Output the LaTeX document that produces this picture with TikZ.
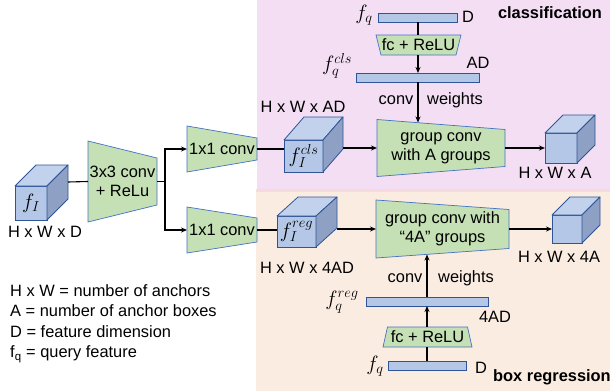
\documentclass[tikz,border=0pt]{standalone}
\usepackage{fontspec}
\setmainfont{Liberation Sans}
\usetikzlibrary{arrows.meta,calc,backgrounds}
\definecolor{clsbg}{HTML}{F3DEF3}
\definecolor{regbg}{HTML}{FBECE2}
\definecolor{seambg}{HTML}{F6DADF}
\definecolor{convgreen}{HTML}{C5E0B4}
\definecolor{edgeblue}{HTML}{4472C4}
\definecolor{cubefront}{HTML}{B4C7E7}
\definecolor{cubetop}{HTML}{C3D2EC}
\definecolor{cubeside}{HTML}{8EA1C4}
\definecolor{cubeedge}{HTML}{2F5597}
\pgfdeclarelayer{back}
\pgfsetlayers{back,background,main}
% trapezoid behind a node: right side narrower by #2 top and bottom
\newcommand{\trapR}[2]{\begin{pgfonlayer}{background}
  \draw[trap] (#1.north west) -- ($(#1.north east)+(0,#2)$)
    -- ($(#1.south east)+(0,-#2)$) -- (#1.south west) -- cycle;
  \end{pgfonlayer}}
% bottom side narrower by #2 (left and right)
\newcommand{\trapB}[2]{\begin{pgfonlayer}{background}
  \draw[trap] (#1.north west) -- (#1.north east)
    -- ($(#1.south east)+(-#2,0)$) -- ($(#1.south west)+(#2,0)$) -- cycle;
  \end{pgfonlayer}}
% top side narrower by #2
\newcommand{\trapT}[2]{\begin{pgfonlayer}{background}
  \draw[trap] ($(#1.north west)+(#2,0)$) -- ($(#1.north east)+(-#2,0)$)
    -- (#1.south east) -- (#1.south west) -- cycle;
  \end{pgfonlayer}}
% top and side faces of a cube whose front face is node #1, depth (#2,#3)
\newcommand{\cubefaces}[3]{
  \filldraw[cubefill=cubetop] (#1.north west) -- ++(#2,#3)
    -- ($(#1.north east)+(#2,#3)$) -- (#1.north east) -- cycle;
  \filldraw[cubefill=cubeside] (#1.north east) -- ++(#2,#3)
    -- ($(#1.south east)+(#2,#3)$) -- (#1.south east) -- cycle;
  \coordinate (#1-back) at ($(#1.east)+(#2,#3)$);}

\begin{document}
\begin{tikzpicture}[x=1pt,y=-1pt,>={Stealth[length=6pt,width=5pt]},
  font=\fontsize{16.4}{19}\selectfont,
  link/.style={line width=1.1pt},
  trap/.style={draw=edgeblue,fill=convgreen,line width=0.7pt},
  tbox/.style={align=center,inner sep=0pt,outer sep=0pt},
  cubefill/.style={draw=cubeedge,fill=#1,line width=0.8pt,line join=round},
  cube/.style={draw=cubeedge,fill=cubefront,line width=0.8pt,
               inner sep=0pt,outer sep=0pt,font=\fontsize{20}{24}\selectfont},
  vec/.style={draw=cubeedge,fill=cubefront,line width=0.8pt,
              minimum height=9pt,inner sep=0pt,outer sep=0pt},
  dim/.style={inner sep=0pt},
  sym/.style={inner sep=0pt,font=\fontsize{20}{24}\selectfont},
  tag/.style={inner sep=0pt,font=\fontsize{16.4}{19}\selectfont\bfseries}]
\useasboundingbox (0,0) rectangle (610,391);
% task panels
\begin{pgfonlayer}{back}
\fill[clsbg] (257,0) rectangle (610,190);
\fill[regbg] (256,190) rectangle (610,391);
\fill[seambg] (256,189) rectangle (610,192);
\end{pgfonlayer}

% backbone
\node[cube,minimum width=32pt,minimum height=34pt] (fI) at (31,203) {$f_I$};
\cubefaces{fI}{21}{-21}
\node[dim] (fIdim) at (45,232) {H x W x D};
\node[tbox,minimum width=69pt,minimum height=81pt] (c33) at (122.5,181.5)
  {3x3 conv\\+ ReLu};
\trapR{c33}{17}
\coordinate (split) at (165,181.5);
\node[tbox,minimum width=70pt,minimum height=46pt] (conv1) at (222,149) {1x1 conv};
\trapR{conv1}{12}
\node[tbox,minimum width=70pt,minimum height=46pt] (conv2) at (222,230) {1x1 conv};
\trapR{conv2}{11}
\draw[link] (fI-back) -- (c33.west);
\draw[link] (c33.east) -- (split);
\draw[link,->] (split) |- (conv1.west);
\draw[link,->] (split) |- (conv2.west);

% classification branch
\node[cube,minimum width=39pt,minimum height=32pt] (fcls) at (303.5,156)
  {$f_I^{cls}$};
\cubefaces{fcls}{20}{-23}
\node[dim] (clsdim) at (303,107) {H x W x AD};
\node[tbox,minimum width=128pt,minimum height=57pt] (gcls) at (441,148)
  {group conv\\with A groups};
\trapR{gcls}{10}
\node[cube,minimum width=32pt,minimum height=30pt] (outA) at (561,148) {};
\cubefaces{outA}{18}{-18}
\node[dim] (Adim) at (555,173) {H x W x A};
\draw[link] (conv1.east) -- (conv1.east -| fcls.west);
\draw[link,->] (gcls.west -| fcls-back) -- (gcls.west);
\draw[link,->] (gcls.east) -- (outA.west);

\node[vec,minimum width=79pt] (fqA) at (418,17.5) {};
\node[sym] at (364,15) {$f_q$};
\node[dim,anchor=west] at (462,17) {D};
\node[tag] at (550,13) {classification};
\node[tbox,minimum width=85pt,minimum height=20pt] (fcA) at (418.5,45) {fc + ReLU};
\trapB{fcA}{5}
\node[vec,minimum width=123pt] (wcls) at (418,77.5) {};
\node[sym] at (337,66) {$f_q^{cls}$};
\node[dim] at (478,63) {AD};
\node[dim] at (396,100) {conv};
\node[dim] at (455,100) {weights};
\draw[link] (fqA) -- (fqA |- fcA.north);
\draw[link,->] (fqA |- fcA.south) -- (wcls);
\draw[link,->,shorten >=-3pt] (wcls) -- (wcls |- gcls.north);

% box regression branch
\node[cube,minimum width=39pt,minimum height=31pt] (freg) at (296.5,231.5)
  {$f_I^{reg}$};
\cubefaces{freg}{21}{-19}
\node[dim] (regdim) at (307,268) {H x W x 4AD};
\node[tbox,minimum width=133pt,minimum height=58pt] (greg) at (442.5,229)
  {group conv with\\“4A” groups};
\trapR{greg}{9.5}
\node[cube,minimum width=30pt,minimum height=28pt] (out4A) at (567,229) {};
\cubefaces{out4A}{18}{-18}
\node[dim] (4Adim) at (559,257) {H x W x 4A};
\draw[link] (conv2.east) -- (conv2.east -| freg.west);
\draw[link,->] (greg.west -| freg-back) -- (greg.west);
\draw[link,->] (greg.east) -- (out4A.west);

\node[vec,minimum width=122pt] (wreg) at (427,301.5) {};
\node[sym] at (342,302) {$f_q^{reg}$};
\node[dim] at (495,317) {4AD};
\node[dim] at (405,278) {conv};
\node[dim] at (466,278) {weights};
\node[tbox,minimum width=89pt,minimum height=20pt] (fcB) at (427.5,337) {fc + ReLU};
\trapT{fcB}{4.5}
\node[vec,minimum width=78pt] (fqB) at (427,365.5) {};
\node[sym] at (375,366) {$f_q$};
\node[dim,anchor=west] at (475,368) {D};
\node[tag,anchor=west] at (493,377) {box regression};
\draw[link] (fqB) -- (fqB |- fcB.south);
\draw[link,->] (fqB |- fcB.north) -- (wreg);
\draw[link,->,shorten >=-3.5pt] (wreg) -- (wreg |- greg.south);

% legend
\node[dim,anchor=north west,align=left,font=\fontsize{16.4}{20.5}\selectfont]
  (legend) at (10,284) {H x W = number of anchors\\A = number of anchor boxes\\
  D = feature dimension\\f\textsubscript{q} = query feature};
\end{tikzpicture}
\end{document}
